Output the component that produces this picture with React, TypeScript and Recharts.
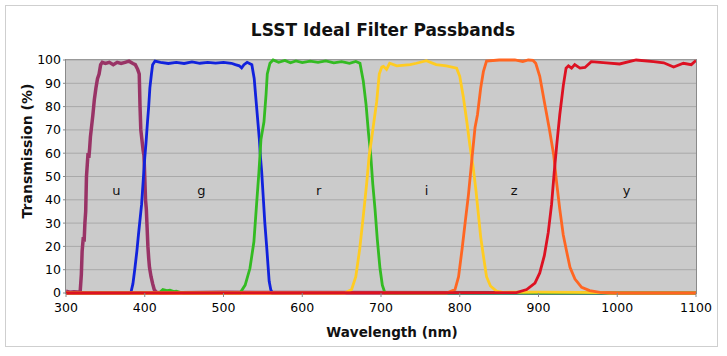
import React from 'react'
import { LineChart, Line, XAxis, YAxis, CartesianGrid, ReferenceDot } from 'recharts'

// [wavelength nm, transmission %]
const U_BAND: [number, number][] = [
  [300, 0.8], [305, 0.3], [310, 0.5], [315, 0.4], [318, 0.6], [319.5, 8], [320.5, 18], [322, 24], [323, 22],
  [324, 30], [325, 35], [326, 50], [327, 55], [328, 60], [329, 58], [330, 62], [331, 67], [332, 70], [334, 76],
  [336, 83], [338, 88], [340, 92], [342, 94], [344, 98], [346, 99], [350, 98.5], [355, 99], [360, 98],
  [365, 99], [370, 98.5], [375, 99], [380, 99.5], [385, 98.5], [388, 98], [391, 96], [393, 94], [394, 80],
  [395, 70], [396, 67], [397, 64], [398, 61], [399, 59], [400, 50], [401, 40], [402, 36], [403, 28],
  [404, 20], [405, 15], [406, 11], [408, 7], [410, 4], [412, 1.5], [414, 0.5], [416, 0.2], [420, 0],
  [500, 0.3], [600, 0.2], [1100, 0],
]

const G_BAND: [number, number][] = [
  [300, 0], [380, 0], [382.5, 0.3], [385, 4], [387.5, 10.6], [390, 18], [392, 25], [396, 38], [398, 48],
  [400, 58], [401.5, 64], [403.5, 73.5], [405, 80], [406.5, 88], [408.5, 94], [410, 98], [413, 99.5],
  [420, 99], [430, 98.5], [440, 99], [450, 98.5], [460, 99.2], [470, 98.6], [480, 99], [490, 98.7],
  [500, 99], [510, 98.6], [515, 98], [520, 97.5], [523, 96.6], [526, 98], [530, 99], [533, 98.5],
  [536, 98], [538, 94], [539, 92], [541, 84], [542, 80], [544, 72], [545.5, 66], [547, 58], [548.5, 52],
  [550.5, 41], [552.5, 30], [555, 19], [556.5, 12], [558, 5], [560, 1.5], [562, 0], [1100, 0],
]

const R_BAND: [number, number][] = [
  [300, 0], [415, 0], [420, 0.5], [423, 1.5], [428, 1], [432, 1.2], [437, 0.6], [440, 0.8], [445, 0.3],
  [450, 0], [521, 0], [527.5, 3.4], [533.6, 10.6], [538.6, 22], [542, 38], [545, 52], [547.6, 66],
  [551.4, 73.5], [554, 85], [555.6, 94], [559, 98.6], [563, 100], [570, 99], [578, 99.8], [585, 98.8],
  [592, 99.6], [600, 98.9], [610, 99.5], [620, 99], [630, 99.6], [640, 98.8], [650, 99.3], [660, 98.6],
  [668, 99.4], [673.3, 98.6], [677.5, 91], [681, 81], [684, 69], [687, 59], [689.5, 47], [692.4, 36],
  [695.3, 23], [698.7, 10.6], [701.7, 3.4], [705, 0], [1100, 0],
]

const I_BAND: [number, number][] = [
  [300, 0], [654, 0], [662.7, 1.5], [668, 7], [673, 19], [677.5, 33], [681.8, 47], [685, 59], [688, 66],
  [691, 73.5], [694.5, 82], [697.8, 94], [701, 97], [703, 97.3], [707, 96], [711, 98.6], [720, 97.5],
  [737, 98], [745, 98.6], [757.6, 99.7], [770, 98], [783, 97.5], [796, 96.5], [800, 93], [804.6, 84],
  [809, 73.5], [813, 63], [817, 54], [820.6, 44], [823.6, 34], [826.6, 24], [830, 16], [834, 7], [839, 3],
  [846.6, 0.8], [854.6, 0.3], [900, 0.4], [950, 0.3], [980, 0.2], [990, 0], [1100, 0],
]

const Z_BAND: [number, number][] = [
  [300, 0], [783.4, 0], [794, 1.5], [798.5, 7], [803, 19], [807, 30.6], [811, 42], [815, 56], [819.4, 71],
  [822.5, 76.5], [826.6, 88], [830, 95], [834, 99.5], [850, 100], [870, 100], [880, 99.3], [887, 100],
  [893, 99.8], [896.5, 98.6], [901.6, 93], [908, 81], [914, 70], [919.4, 59], [922.8, 48], [927, 36],
  [931.4, 25], [935.6, 18], [940, 11], [946.3, 6], [954.8, 2.4], [965, 1], [978, 0.3], [1000, 0], [1100, 0],
]

const Y_BAND: [number, number][] = [
  [300, 0], [872, 0.2], [885, 1.5], [895.5, 4.3], [901.6, 8.6], [907.4, 16], [912.4, 26], [916.6, 38],
  [920, 52], [923, 63], [927, 76.5], [931.5, 89], [935, 96.5], [938, 97.5], [942, 96.5], [946, 98],
  [952.7, 96.5], [959, 96.8], [967, 99.3], [986, 98.8], [1003, 98.3], [1024, 100], [1046, 99.3],
  [1059, 98.8], [1071.6, 97], [1084, 98.6], [1094, 98], [1100, 99.8],
]

const BANDS = ['u', 'g', 'r', 'i', 'z', 'y']
const BAND_DATA = [U_BAND, G_BAND, R_BAND, I_BAND, Z_BAND, Y_BAND]
const BAND_COLORS = ['#993366', '#1122dd', '#33bb22', '#ffcc22', '#ff6622', '#dd1122']
const BAND_LABEL_WL = [364, 472, 621, 758, 869, 1012]
const BAND_LABEL_T = 44

const X_TICKS = [300, 400, 500, 600, 700, 800, 900, 1000, 1100]
const Y_TICKS = [0, 10, 20, 30, 40, 50, 60, 70, 80, 90, 100]

const FONT = '"DejaVu Sans", Verdana, sans-serif'

export default function App() {
  const series = BAND_DATA.map((band) => band.map(([wl, t]) => ({ wl, t })))

  return (
    <div style={{ position: 'absolute', left: 0, top: 0, width: 727, height: 356, background: '#fff', fontFamily: FONT }}>
      {/* outer frame */}
      <div style={{ position: 'absolute', left: 5, top: 5, width: 711, height: 340, border: '1px solid #cfcfcf' }} />
      {/* plot frame */}
      <div style={{ position: 'absolute', left: 65, top: 59, width: 630, height: 233, border: '1px solid #8a8a8a' }} />

      <div style={{ position: 'absolute', left: 0, top: 0 }}>
        <LineChart width={727} height={356} margin={{ top: 60, right: 31, bottom: 33, left: 0 }}>
          <CartesianGrid vertical={false} stroke="#a9a9a9" fill="#cbcbcb" />
          <XAxis
            type="number"
            dataKey="wl"
            domain={[300, 1100]}
            ticks={X_TICKS}
            allowDataOverflow
            height={30}
            tickSize={4}
            tickMargin={6}
            axisLine={false}
            tickLine={{ stroke: '#888' }}
            tick={{ fontSize: 12.5, fill: '#000', fontFamily: FONT }}
          />
          <YAxis
            type="number"
            domain={[0, 100]}
            ticks={Y_TICKS}
            width={66}
            tickSize={3}
            tickMargin={2}
            axisLine={false}
            tickLine={{ stroke: '#888' }}
            tick={{ fontSize: 12.5, fill: '#000', fontFamily: FONT }}
          />
          {series.map((data, i) => (
            <Line
              key={BANDS[i]}
              data={data}
              dataKey="t"
              type="linear"
              stroke={BAND_COLORS[i]}
              strokeWidth={i === 0 ? 3.5 : 2.8}
              dot={false}
              activeDot={false}
              isAnimationActive={false}
            />
          ))}
          {BANDS.map((b, i) => (
            <ReferenceDot
              key={'lbl-' + b}
              x={BAND_LABEL_WL[i]}
              y={BAND_LABEL_T}
              r={0}
              fill="none"
              stroke="none"
              label={{ value: b, position: 'center', fontSize: 13, fill: '#111', fontFamily: FONT }}
            />
          ))}
        </LineChart>
      </div>

      <div style={{ position: 'absolute', left: 0, width: 766, top: 19, textAlign: 'center', fontSize: 17, fontWeight: 'bold', lineHeight: '22px', color: '#111' }}>
        LSST Ideal Filter Passbands
      </div>
      <div style={{ position: 'absolute', left: 0, width: 784, top: 323, textAlign: 'center', fontSize: 13.5, fontWeight: 'bold', lineHeight: '18px', color: '#111' }}>
        Wavelength (nm)
      </div>
      <div
        style={{
          position: 'absolute', left: 27, top: 151, width: 200, marginLeft: -100, marginTop: -9, height: 18,
          transform: 'rotate(-90deg)', textAlign: 'center', fontSize: 14, fontWeight: 'bold', lineHeight: '18px', color: '#111',
        }}
      >
        Transmission (%)
      </div>
    </div>
  )
}
